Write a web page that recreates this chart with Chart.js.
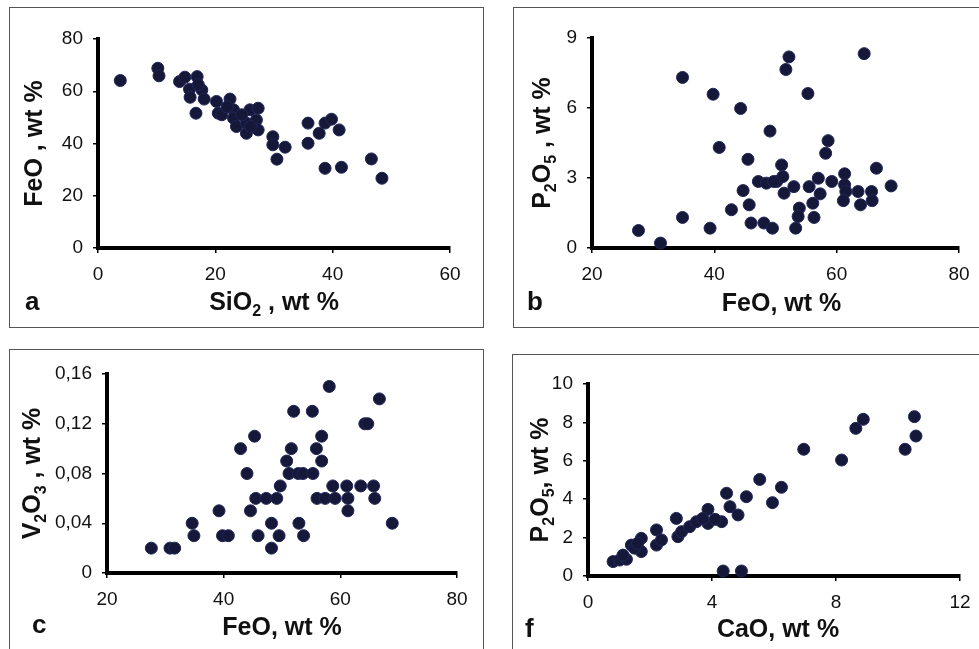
<!DOCTYPE html>
<html>
<head>
<meta charset="utf-8">
<script src="https://cdn.jsdelivr.net/npm/chart.js@4.4.0/dist/chart.umd.min.js"></script>
<style>
    body { margin: 0; background: #fff; width: 979px; height: 649px; overflow: hidden; position: relative; }
    .panel { position: absolute; border: 1.5px solid #555; box-sizing: border-box; }
    canvas { position: absolute; }
</style>
</head>
<body>
<script>
// a: SiO2 - FeO
const sio2_a = [3.8, 10.2, 10.4, 13.9, 14.8, 16.9, 15.6, 17.7, 15.7, 18.1, 16.7, 17.1, 20.2, 22.5, 20.5, 21.1, 23.1, 23.1, 23.6, 25.3, 25.9, 27.3, 27.0, 27.3, 25.3, 24.5, 22.0, 26.0, 29.8, 29.8, 30.5, 31.9, 35.8, 35.8, 37.7, 38.7, 39.8, 41.1, 38.7, 41.5, 46.6, 48.4];
const feo_a = [64.1, 68.8, 65.9, 63.7, 65.4, 65.6, 60.8, 60.5, 57.7, 57.0, 51.6, 62.5, 56.1, 57.0, 51.6, 51.0, 52.9, 49.7, 46.5, 43.9, 52.9, 53.5, 49.0, 45.2, 47.8, 51.0, 54.0, 46.5, 42.6, 39.5, 34.0, 38.6, 47.8, 40.1, 43.9, 47.8, 49.3, 45.2, 30.5, 30.9, 34.1, 26.7];

// b: FeO - P2O5
const feo_b = [27.6, 31.2, 34.8, 34.8, 39.3, 39.8, 40.8, 44.3, 42.8, 45.5, 44.7, 45.7, 46.0, 48.1, 49.5, 49.1, 47.2, 48.5, 50.2, 52.2, 51.7, 64.5, 55.3, 58.6, 58.2, 51.0, 51.2, 53.0, 55.5, 57.0, 57.3, 56.1, 53.9, 53.7, 53.3, 56.3, 59.2, 61.3, 61.3, 61.5, 61.1, 63.5, 63.9, 65.7, 65.8, 66.5, 68.9, 49.7, 51.4];
const p2o5_b = [0.75, 0.21, 7.31, 1.31, 0.85, 6.59, 4.31, 5.98, 1.64, 3.80, 2.46, 1.85, 1.07, 1.07, 0.85, 5.01, 2.85, 2.78, 2.85, 8.19, 7.65, 8.33, 6.62, 4.60, 4.06, 3.56, 3.06, 2.63, 2.63, 2.99, 2.32, 1.92, 1.71, 1.35, 0.85, 1.31, 2.85, 3.18, 2.71, 2.42, 2.03, 2.42, 1.85, 2.42, 2.03, 3.42, 2.66, 2.85, 2.35];

// c: FeO - V2O3
const feo_c = [27.6, 30.8, 31.6, 34.6, 34.9, 39.2, 39.8, 40.8, 42.9, 44.0, 45.3, 44.6, 45.9, 45.5, 47.3, 49.1, 48.2, 48.2, 49.5, 49.7, 52.0, 58.1, 66.7, 55.2, 64.2, 64.7, 56.8, 51.6, 55.9, 50.8, 56.8, 51.2, 52.8, 53.6, 55.3, 58.7, 61.1, 63.5, 65.7, 56.0, 57.4, 59.1, 61.3, 65.9, 61.3, 52.9, 53.7, 68.9];
const v2o3_c = [0.02, 0.02, 0.02, 0.04, 0.03, 0.05, 0.03, 0.03, 0.10, 0.08, 0.11, 0.05, 0.03, 0.06, 0.06, 0.06, 0.04, 0.02, 0.03, 0.07, 0.13, 0.15, 0.14, 0.13, 0.12, 0.12, 0.11, 0.10, 0.10, 0.09, 0.09, 0.08, 0.08, 0.08, 0.08, 0.07, 0.07, 0.07, 0.07, 0.06, 0.06, 0.06, 0.06, 0.06, 0.05, 0.04, 0.03, 0.04];

// f: CaO - P2O5
const cao_f = [0.81, 1.02, 1.24, 1.13, 1.40, 1.72, 1.72, 1.50, 2.21, 2.21, 2.37, 2.85, 2.90, 3.02, 3.28, 3.50, 3.87, 3.87, 4.31, 4.47, 4.58, 4.84, 5.11, 5.54, 5.95, 4.36, 4.95, 6.24, 6.96, 8.18, 8.64, 8.88, 10.23, 10.58, 10.53, 3.70, 4.10, 1.60];
const p2o5_f = [0.75, 0.83, 0.87, 1.09, 1.61, 1.96, 1.27, 1.45, 2.40, 1.61, 1.88, 3.00, 2.05, 2.31, 2.57, 2.83, 3.47, 2.74, 2.83, 4.31, 3.61, 3.18, 4.13, 5.03, 3.82, 0.26, 0.26, 4.62, 6.60, 6.04, 7.69, 8.16, 6.60, 7.29, 8.30, 3.00, 2.95, 1.70];

const FONT = '"Liberation Sans", Arial, sans-serif';

// 下付き文字を含むタイトルを描く
function draw_rich(ctx, parts, cx, cy, angle) {
    const big = "bold 25px " + FONT;
    const small = "bold 16px " + FONT;
    ctx.save();
    ctx.translate(cx, cy);
    ctx.rotate(angle);
    ctx.fillStyle = "#111";
    ctx.textBaseline = "alphabetic";
    ctx.textAlign = "left";
    let total = 0;
    parts.forEach(p => {
        ctx.font = p.sub ? small : big;
        p.w = ctx.measureText(p.t).width;
        total += p.w;
    });
    let x = -total / 2;
    parts.forEach(p => {
        ctx.font = p.sub ? small : big;
        ctx.fillText(p.t, x, p.sub ? 6 : 0);
        x += p.w;
    });
    ctx.restore();
}

const panelText = {
    id: "panelText",
    afterDraw(chart, args, o) {
        const ctx = chart.ctx;
        const a = chart.chartArea;
        draw_rich(ctx, o.xTitle, (a.left + a.right) / 2 + o.xShift, o.xBase, 0);
        draw_rich(ctx, o.yTitle, o.yBase, (a.top + a.bottom) / 2, -Math.PI / 2);
        ctx.save();
        ctx.font = "bold 26px " + FONT;
        ctx.fillStyle = "#111";
        ctx.textAlign = "left";
        ctx.fillText(o.letter, o.lx, o.ly);
        ctx.restore();
    }
};

function make_axis(min, max, step, fmt) {
    return {
        type: "linear",
        min: min,
        max: max,
        grid: { drawOnChartArea: false, drawTicks: true, tickLength: 5, color: "#000", lineWidth: 1.5 },
        border: { display: true, color: "#000", width: 4 },
        ticks: {
            stepSize: step,
            color: "#111",
            padding: 10,
            font: { family: FONT, size: 19 },
            callback: fmt || (v => String(v))
        }
    };
}

function make_panel(box, area, xs, ys, xAxis, yAxis, t) {
    const div = document.createElement("div");
    div.className = "panel";
    div.style.left = box.x + "px";
    div.style.top = box.y + "px";
    div.style.width = box.w + "px";
    div.style.height = box.h + "px";
    document.body.appendChild(div);

    const canvas = document.createElement("canvas");
    canvas.width = box.w;
    canvas.height = box.h;
    canvas.style.left = box.x + "px";
    canvas.style.top = box.y + "px";
    document.body.appendChild(canvas);

    const points = xs.map((x, i) => ({ x: x, y: ys[i] }));

    xAxis.afterFit = s => { s.height = box.y + box.h - area.bottom; };
    yAxis.afterFit = s => { s.width = area.left - box.x; };

    new Chart(canvas.getContext("2d"), {
        type: "scatter",
        data: {
            datasets: [{
                data: points,
                backgroundColor: "#151838",
                borderColor: "#1f2656",
                borderWidth: 1,
                pointRadius: 6,
                pointHoverRadius: 6,
                clip: false
            }]
        },
        options: {
            responsive: false,
            animation: false,
            devicePixelRatio: 1,
            layout: { padding: { left: 0, top: area.top - box.y, right: box.x + box.w - area.right, bottom: 0 } },
            scales: { x: xAxis, y: yAxis },
            plugins: {
                legend: { display: false },
                tooltip: { enabled: false },
                panelText: {
                    xTitle: t.xTitle, yTitle: t.yTitle, letter: t.letter,
                    xShift: t.xShift || 0,
                    xBase: t.xBase - box.y,
                    yBase: t.yBase - box.x,
                    lx: t.lx - box.x,
                    ly: t.ly - box.y
                }
            }
        },
        plugins: [panelText]
    });
}

const comma = v => v === 0 ? "0" : v.toFixed(2).replace(".", ",");

make_panel({ x: 9, y: 7, w: 475, h: 321 }, { left: 98, top: 39, right: 450, bottom: 248 },
    sio2_a, feo_a, make_axis(0, 60, 20), make_axis(0, 80, 20),
    {
        xTitle: [{ t: "SiO" }, { t: "2", sub: true }, { t: " , wt %" }],
        yTitle: [{ t: "FeO , wt %" }],
        letter: "a", xBase: 310, yBase: 42, lx: 25, ly: 310
    });

make_panel({ x: 513, y: 7, w: 468, h: 321 }, { left: 592, top: 38, right: 959, bottom: 248 },
    feo_b, p2o5_b, make_axis(20, 80, 20), make_axis(0, 9, 3),
    {
        xTitle: [{ t: "FeO, wt %" }],
        yTitle: [{ t: "P" }, { t: "2", sub: true }, { t: "O" }, { t: "5", sub: true }, { t: " , wt %" }],
        letter: "b", xShift: 6, xBase: 311, yBase: 550, lx: 527, ly: 310
    });

make_panel({ x: 9, y: 349, w: 475, h: 302 }, { left: 107, top: 374, right: 457, bottom: 573 },
    feo_c, v2o3_c, make_axis(20, 80, 20), make_axis(0, 0.16, 0.04, comma),
    {
        xTitle: [{ t: "FeO, wt %" }],
        yTitle: [{ t: "V" }, { t: "2", sub: true }, { t: "O" }, { t: "3", sub: true }, { t: " , wt %" }],
        letter: "c", xBase: 635, yBase: 40, lx: 32, ly: 633
    });

make_panel({ x: 512, y: 354, w: 469, h: 297 }, { left: 588, top: 384, right: 960, bottom: 576 },
    cao_f, p2o5_f, make_axis(0, 12, 4), make_axis(0, 10, 2),
    {
        xTitle: [{ t: "CaO, wt %" }],
        yTitle: [{ t: "P" }, { t: "2", sub: true }, { t: "O" }, { t: "5", sub: true }, { t: ", wt %" }],
        letter: "f", xShift: 4, xBase: 637, yBase: 548, lx: 525, ly: 637
    });
</script>
</body>
</html>
